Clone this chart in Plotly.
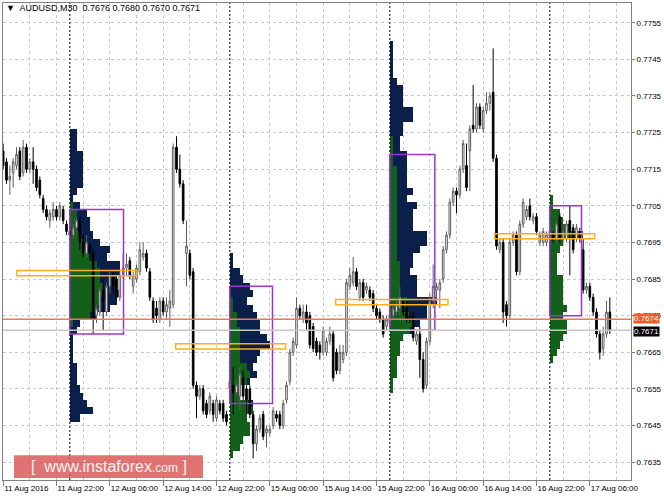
import plotly.graph_objects as go

# ---------------- data ----------------
# 30-minute bars, bar 0 = 11 Aug 2016 14:00 (weekend removed)
bar_open = [0.7720,0.7717,0.7712,0.7714,0.7716,0.7720,0.7714,0.7721,0.7715,0.7717,
0.7715,0.7712,0.7707,0.7704,0.7701,0.7702,0.7704,0.7702,0.7704,0.7700,
0.7698,0.7697,0.7699,0.7701,0.7695,0.7692,0.7694,0.7692,0.7675,0.7676,
0.7682,0.7676,0.7683,0.7686,0.7685,0.7680,0.7686,0.7688,0.7690,0.7683,
0.7685,0.7687,0.7691,0.7692,0.7687,0.7679,0.7677,0.7674,0.7679,0.7676,
0.7677,0.7678,0.7721,0.7715,0.7711,0.7692,0.7692,0.7687,0.7656,0.7653,
0.7655,0.7651,0.7649,0.7651,0.7647,0.7651,0.7651,0.7648,0.7655,0.7656,
0.7654,0.7653,0.7658,0.7655,0.7655,0.7648,0.7640,0.7644,0.7648,0.7643,
0.7643,0.7645,0.7648,0.7648,0.7645,0.7652,0.7657,0.7665,0.7667,0.7677,
0.7674,0.7676,0.7675,0.7672,0.7668,0.7667,0.7665,0.7665,0.7668,0.7670,
0.7665,0.7660,0.7663,0.7665,0.7683,0.7684,0.7687,0.7680,0.7684,0.7682,
0.7682,0.7681,0.7677,0.7676,0.7674,0.7672,0.7673,0.7675,0.7676,0.7677,
0.7679,0.7677,0.7675,0.7675,0.7668,0.7670,0.7663,0.7656,0.7668,0.7679,
0.7682,0.7682,0.7685,0.7693,0.7697,0.7706,0.7709,0.7708,0.7715,0.7716,
0.7720,0.7727,0.7726,0.7732,0.7726,0.7731,0.7733,0.7736,0.7718,0.7693,
0.7695,0.7678,0.7675,0.7695,0.7697,0.7687,0.7700,0.7702,0.7705,0.7701,
0.7702,0.7695,0.7695,0.7695,0.7696,0.7697,0.7696,0.7702,0.7696,0.7696,
0.7701,0.7699,0.7696,0.7698,0.7693,0.7682,0.7683,0.7680,0.7676,0.7670,
0.7666,0.7670,0.7676]
bar_high = [0.7722,0.7718,0.7716,0.7718,0.7721,0.7721,0.7723,0.7722,0.7718,0.7721,
0.7716,0.7713,0.7708,0.7705,0.7704,0.7706,0.7705,0.7706,0.7705,0.7701,
0.7699,0.7700,0.7702,0.7702,0.7697,0.7697,0.7695,0.7693,0.7678,0.7683,
0.7685,0.7684,0.7687,0.7687,0.7686,0.7687,0.7692,0.7692,0.7691,0.7687,
0.7689,0.7695,0.7695,0.7693,0.7688,0.7680,0.7679,0.7680,0.7680,0.7680,
0.7682,0.7722,0.7724,0.7719,0.7712,0.7701,0.7693,0.7688,0.7657,0.7656,
0.7656,0.7652,0.7654,0.7652,0.7653,0.7652,0.7652,0.7649,0.7658,0.7661,
0.7657,0.7661,0.7660,0.7656,0.7656,0.7649,0.7645,0.7648,0.7649,0.7645,
0.7645,0.7650,0.7649,0.7649,0.7652,0.7657,0.7666,0.7669,0.7680,0.7678,
0.7678,0.7678,0.7676,0.7673,0.7669,0.7668,0.7672,0.7669,0.7672,0.7671,
0.7666,0.7667,0.7667,0.7685,0.7688,0.7691,0.7688,0.7685,0.7685,0.7684,
0.7683,0.7682,0.7678,0.7677,0.7675,0.7675,0.7676,0.7678,0.7679,0.7683,
0.7680,0.7679,0.7676,0.7676,0.7671,0.7672,0.7665,0.7669,0.7681,0.7689,
0.7684,0.7685,0.7694,0.7698,0.7707,0.7710,0.7710,0.7716,0.7723,0.7722,
0.7727,0.7738,0.7733,0.7733,0.7732,0.7736,0.7736,0.7748,0.7719,0.7696,
0.7696,0.7679,0.7696,0.7698,0.7698,0.7701,0.7707,0.7705,0.7707,0.7703,
0.7703,0.7698,0.7699,0.7698,0.7699,0.7698,0.7701,0.7703,0.7700,0.7701,
0.7705,0.7700,0.7700,0.7699,0.7696,0.7684,0.7684,0.7681,0.7677,0.7671,
0.7672,0.7679,0.7680]
bar_low = [0.7715,0.7711,0.7708,0.7710,0.7715,0.7712,0.7713,0.7714,0.7714,0.7711,
0.7709,0.7707,0.7703,0.7701,0.7699,0.7701,0.7701,0.7701,0.7700,0.7697,
0.7696,0.7696,0.7698,0.7693,0.7691,0.7691,0.7690,0.7670,0.7673,0.7675,
0.7671,0.7675,0.7681,0.7681,0.7679,0.7679,0.7685,0.7686,0.7685,0.7681,
0.7684,0.7686,0.7690,0.7687,0.7679,0.7673,0.7673,0.7673,0.7675,0.7674,
0.7672,0.7677,0.7714,0.7710,0.7700,0.7683,0.7685,0.7655,0.7647,0.7652,
0.7648,0.7647,0.7648,0.7646,0.7646,0.7648,0.7646,0.7645,0.7654,0.7648,
0.7653,0.7649,0.7652,0.7648,0.7647,0.7636,0.7638,0.7643,0.7641,0.7639,
0.7642,0.7644,0.7646,0.7644,0.7644,0.7651,0.7656,0.7664,0.7666,0.7674,
0.7673,0.7671,0.7666,0.7665,0.7664,0.7663,0.7664,0.7664,0.7667,0.7657,
0.7659,0.7659,0.7662,0.7664,0.7682,0.7683,0.7682,0.7679,0.7679,0.7681,
0.7679,0.7676,0.7674,0.7673,0.7669,0.7671,0.7672,0.7674,0.7675,0.7675,
0.7675,0.7673,0.7673,0.7668,0.7667,0.7658,0.7654,0.7655,0.7667,0.7677,
0.7679,0.7677,0.7684,0.7692,0.7696,0.7705,0.7703,0.7707,0.7714,0.7709,
0.7709,0.7725,0.7725,0.7726,0.7725,0.7730,0.7731,0.7717,0.7693,0.7692,
0.7673,0.7672,0.7674,0.7694,0.7686,0.7686,0.7699,0.7701,0.7701,0.7700,
0.7697,0.7694,0.7694,0.7694,0.7695,0.7695,0.7695,0.7695,0.7695,0.7695,
0.7686,0.7692,0.7695,0.7695,0.7681,0.7681,0.7679,0.7675,0.7669,0.7663,
0.7664,0.7669,0.7670]
bar_close = [0.7716,0.7712,0.7713,0.7717,0.7719,0.7713,0.7721,0.7715,0.7717,0.7715,
0.7710,0.7708,0.7704,0.7702,0.7703,0.7704,0.7702,0.7705,0.7701,0.7698,
0.7697,0.7699,0.7701,0.7695,0.7692,0.7695,0.7692,0.7674,0.7677,0.7682,
0.7679,0.7683,0.7686,0.7683,0.7680,0.7686,0.7688,0.7689,0.7686,0.7686,
0.7688,0.7693,0.7692,0.7688,0.7680,0.7674,0.7675,0.7679,0.7676,0.7678,
0.7679,0.7721,0.7715,0.7711,0.7701,0.7694,0.7686,0.7656,0.7653,0.7655,
0.7649,0.7648,0.7653,0.7648,0.7652,0.7649,0.7647,0.7646,0.7657,0.7654,
0.7656,0.7659,0.7653,0.7652,0.7648,0.7640,0.7644,0.7647,0.7642,0.7644,
0.7644,0.7649,0.7647,0.7645,0.7651,0.7656,0.7665,0.7668,0.7677,0.7675,
0.7676,0.7673,0.7667,0.7666,0.7665,0.7665,0.7671,0.7668,0.7670,0.7658,
0.7660,0.7665,0.7665,0.7684,0.7686,0.7687,0.7683,0.7684,0.7680,0.7683,
0.7680,0.7677,0.7675,0.7674,0.7670,0.7674,0.7675,0.7677,0.7678,0.7680,
0.7676,0.7674,0.7674,0.7669,0.7670,0.7663,0.7655,0.7668,0.7679,0.7683,
0.7683,0.7684,0.7693,0.7697,0.7706,0.7709,0.7708,0.7715,0.7722,0.7710,
0.7726,0.7726,0.7732,0.7727,0.7731,0.7733,0.7735,0.7718,0.7694,0.7695,
0.7676,0.7675,0.7695,0.7697,0.7687,0.7700,0.7706,0.7704,0.7702,0.7702,
0.7698,0.7697,0.7698,0.7697,0.7698,0.7696,0.7700,0.7696,0.7698,0.7700,
0.7698,0.7693,0.7699,0.7696,0.7682,0.7683,0.7680,0.7676,0.7670,0.7665,
0.7670,0.7676,0.7671]
bar_index = list(range(len(bar_close)))

tick_bars = [0, 16, 32, 48, 64, 80, 96, 112, 128, 144, 160, 176]
tick_text = ["11 Aug 2016", "11 Aug 22:00", "12 Aug 06:00", "12 Aug 14:00",
             "12 Aug 22:00", "15 Aug 06:00", "15 Aug 14:00", "15 Aug 22:00",
             "16 Aug 06:00", "16 Aug 14:00", "16 Aug 22:00", "17 Aug 06:00"]
price_ticks = [0.7635, 0.7645, 0.7655, 0.7665, 0.7675, 0.7685, 0.7695,
               0.7705, 0.7715, 0.7725, 0.7735, 0.7745, 0.7755]
price_labels = ["0.7635", "0.7645", "0.7655", "0.7665", "0.7675", "0.7685", "0.7695",
                "0.7705", "0.7715", "0.7725", "0.7735", "0.7745", "0.7755"]

# day separators (bar index of 00:00)
day_starts = [20, 68, 116, 164]

# market profiles: TPO counts per 2-pip row, from the lowest row upward
profile_bin = 0.0002
profile_low = [0.7646, 0.7636, 0.7654, 0.7662]
p1_total = [3,7,5,4,3,2,2,2,1,1,1,1,2,3,8,12,14,15,14,14,15,15,11,12,9,7,6,6,5,3,1,2,4,4,4,4,4,2,2,2]
p1_green = [0,0,0,0,0,0,0,0,0,0,0,0,0,1,6,8,9,10,10,9,9,8,6,5,4,3,2,2,2,1,0,0,0,0,0,0,0,0,0,0]
p2_total = [1,3,4,6,6,5,7,7,3,3,6,8,7,8,9,12,11,9,9,8,7,5,7,6,4,3,1,1]
p2_green = [1,3,4,6,6,5,7,6,3,3,5,6,5,3,3,3,3,3,2,2,1,1,0,0,0,0,0,0]
p3_total = [1,1,2,2,2,3,3,4,7,9,11,11,14,8,8,8,6,7,7,9,11,11,7,7,7,8,5,7,5,5,5,5,5,3,3,4,4,7,7,4,4,4,2,1,1,1,1,1]
p3_green = [1,1,2,2,2,3,3,4,6,7,6,5,5,3,3,3,3,3,2,2,2,2,2,2,2,2,2,2,2,2,2,1,1,1,1,0,0,0,0,0,0,0,0,0,0,0,0,0]
p4_total = [1,2,3,4,5,5,4,5,4,4,4,4,2,2,2,3,4,10,6,4,3,1,1]
p4_green = [1,2,3,4,5,5,4,5,4,4,4,4,2,2,2,3,4,10,6,4,3,1,1]
profile_totals = [p1_total, p2_total, p3_total, p4_total]
profile_greens = [p1_green, p2_green, p3_green, p4_green]

# value areas and points of control
va_low = [0.7670, 0.7651, 0.7671, 0.7675]
va_high = [0.7704, 0.7683, 0.7719, 0.7705]
va_end = [36.1, 80.8, 129.5, 173.5]
poc_price = [0.76866, 0.76666, 0.76787, 0.76967]
poc_from = [4.05, 51.75, 99.75, 147.45]
poc_to = [40.05, 84.75, 133.45, 177.45]

line_price = 0.7674
bid_price = 0.7671

# ---------------- figure ----------------
GREEN = "#12601a"
NAVY = "#0a1f4a"
FONT = "Liberation Sans, Arial"
fig = go.Figure()

for k in range(4):
    tot = profile_totals[k]
    grn = profile_greens[k]
    centers = [round(profile_low[k] + j * profile_bin, 4) + profile_bin / 2 for j in range(len(tot))]
    start = day_starts[k]
    fig.add_trace(go.Bar(y=centers, x=grn, base=[start] * len(grn), orientation="h",
                         width=profile_bin, marker=dict(color=GREEN, line=dict(width=0)),
                         hoverinfo="skip", showlegend=False))
    rest = [t - g for t, g in zip(tot, grn)]
    fig.add_trace(go.Bar(y=centers, x=rest, base=[start + g for g in grn], orientation="h",
                         width=profile_bin, marker=dict(color=NAVY, line=dict(width=0)),
                         hoverinfo="skip", showlegend=False))

fig.add_trace(go.Candlestick(
    x=bar_index, open=bar_open, high=bar_high, low=bar_low, close=bar_close,
    increasing=dict(line=dict(color="#5e5e5e", width=1), fillcolor="#ffffff"),
    decreasing=dict(line=dict(color="#000000", width=1), fillcolor="#000000"),
    whiskerwidth=0, showlegend=False, hoverinfo="skip"))

shapes = []
for d in day_starts:
    shapes.append(dict(type="line", xref="x", yref="paper", x0=d, x1=d, y0=0, y1=1,
                       line=dict(color="#000000", width=1, dash="2px,2px"), layer="above"))
for k in range(4):
    shapes.append(dict(type="rect", xref="x", yref="y", x0=day_starts[k], x1=va_end[k],
                       y0=va_low[k], y1=va_high[k], line=dict(color="#9b35d6", width=1.5),
                       fillcolor="rgba(0,0,0,0)", layer="above"))
    shapes.append(dict(type="rect", xref="x", yref="y", x0=poc_from[k], x1=poc_to[k],
                       y0=poc_price[k] - 0.00007, y1=poc_price[k] + 0.00007,
                       line=dict(color="#ffae1a", width=1.5), fillcolor="rgba(0,0,0,0)",
                       layer="above"))
shapes.append(dict(type="line", xref="paper", yref="y", x0=0, x1=1, y0=bid_price, y1=bid_price,
                   line=dict(color="#c8c8c8", width=1.5), layer="above"))
shapes.append(dict(type="line", xref="paper", yref="y", x0=0, x1=1, y0=line_price, y1=line_price,
                   line=dict(color="#f07850", width=1.5), layer="above"))
# watermark box
shapes.append(dict(type="rect", xref="paper", yref="paper", x0=0.0175, x1=0.3185, y0=0.004, y1=0.052,
                   line=dict(width=0), fillcolor="rgba(218,80,80,0.8)", layer="above"))

annotations = [
    dict(xref="paper", yref="paper", x=0.002, y=0.9895, xanchor="left", yanchor="middle",
         text="\u25BC  AUDUSD,M30  0.7676 0.7680 0.7670 0.7671", showarrow=False,
         font=dict(family=FONT, size=9, color="#000000")),
    dict(xref="paper", yref="y", x=1.0, y=line_price, xanchor="left", yanchor="middle", xshift=2,
         yshift=1, text="0.7674", showarrow=False, bgcolor="#f25a2a", borderpad=0,
         font=dict(family=FONT, size=8, color="#ffffff")),
    dict(xref="paper", yref="y", x=1.0, y=bid_price, xanchor="left", yanchor="middle", xshift=2,
         yshift=-1, text="0.7671", showarrow=False, bgcolor="#000000", borderpad=0,
         font=dict(family=FONT, size=8, color="#ffffff")),
    dict(xref="paper", yref="paper", x=0.168, y=0.028, xanchor="center", yanchor="middle",
         text="[  www.instaforex<span style='font-size:12px'>.com</span> ]", showarrow=False,
         font=dict(family=FONT, size=16, color="#f4f4f4")),
]

fig.update_layout(
    width=664, height=498,
    margin=dict(l=3, r=33, t=3, b=18, pad=0),
    paper_bgcolor="#ffffff", plot_bgcolor="#ffffff",
    barmode="overlay", bargap=0, boxgap=0.3,
    showlegend=False,
    shapes=shapes, annotations=annotations,
    font=dict(family=FONT, size=8, color="#000000"),
    xaxis=dict(
        range=[-0.05, 188.35], rangeslider=dict(visible=False), automargin=False,
        tickmode="array", tickvals=tick_bars, ticktext=tick_text, tickangle=0,
        ticklabelposition="outside right", ticks="outside", ticklen=5, tickcolor="#808080",
        showgrid=True, gridcolor="#c8c8c8", griddash="3px,3px", gridwidth=1,
        minor=dict(tickmode="linear", tick0=0, dtick=8, showgrid=True, gridcolor="#c8c8c8",
                   griddash="3px,3px", gridwidth=1, ticks=""),
        showline=True, linecolor="#808080", linewidth=1, mirror=True, zeroline=False,
        tickfont=dict(size=8, color="#000000"),
    ),
    yaxis=dict(
        range=[0.76301, 0.77604], side="right", automargin=False,
        tickmode="array", tickvals=price_ticks, ticktext=price_labels,
        ticks="outside", ticklen=3, tickcolor="#808080",
        showgrid=True, gridcolor="#c8c8c8", griddash="3px,3px", gridwidth=1,
        showline=True, linecolor="#808080", linewidth=1, mirror=True, zeroline=False,
        tickfont=dict(size=8, color="#000000"),
    ),
)

fig.write_html("out.html", config={"displayModeBar": False},
               post_script="document.body.style.margin='0px';document.body.style.overflow='hidden';")
